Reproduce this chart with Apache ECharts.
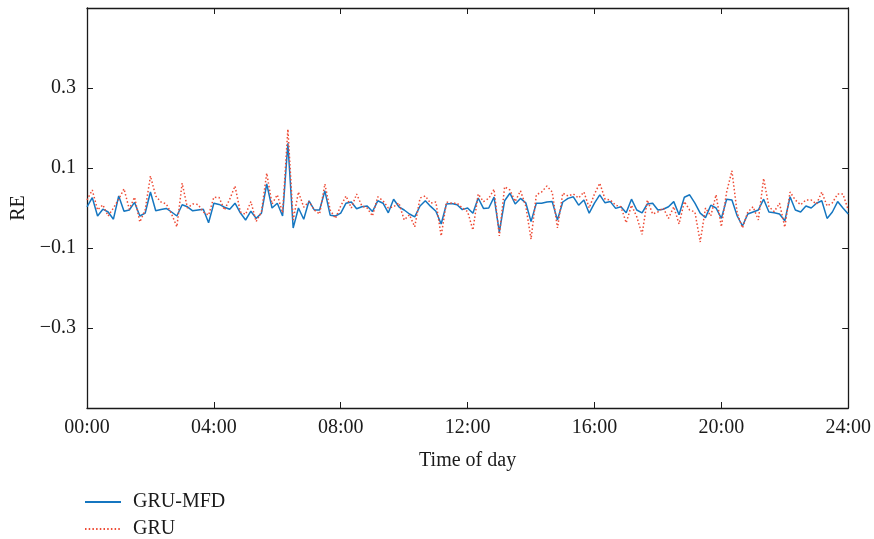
<!DOCTYPE html>
<html>
<head>
<meta charset="utf-8">
<script src="https://cdn.jsdelivr.net/npm/echarts@6/dist/echarts.min.js"></script>
<style>
  html, body { margin: 0; padding: 0; background: #fff; }
  #chart { width: 874px; height: 539px; }
</style>
</head>
<body>
<div id="chart"></div>
<script>
// Relative error over one day, sampled every 10 minutes (00:00 .. 24:00)
const stepMinutes = 10;

const gruMfd = [
  0.003, 0.026, -0.02, -0.003, -0.01, -0.028, 0.03, -0.008, -0.005, 0.014,
  -0.02, -0.013, 0.04, -0.007, -0.004, -0.001, -0.01, -0.02, 0.008, 0.003,
  -0.007, -0.005, -0.003, -0.037, 0.012, 0.009, 0.002, -0.003, 0.012, -0.012,
  -0.03, -0.008, -0.026, -0.013, 0.06, 0.0, 0.012, -0.02, 0.162, -0.05,
  0.0, -0.028, 0.018, -0.005, -0.005, 0.043, -0.018, -0.02, -0.013, 0.012,
  0.015, -0.002, 0.003, 0.005, -0.009, 0.018, 0.012, -0.012, 0.022, 0.003,
  -0.005, -0.015, -0.022, 0.005, 0.018, 0.004, -0.008, -0.04, 0.01, 0.011,
  0.008, -0.004, 0.0, -0.013, 0.025, -0.001, 0.0, 0.027, -0.06, 0.018,
  0.037, 0.01, 0.024, 0.013, -0.034, 0.012, 0.012, 0.015, 0.016, -0.03,
  0.015, 0.024, 0.028, 0.007, 0.02, -0.013, 0.012, 0.033, 0.013, 0.016,
  -0.001, 0.003, -0.012, 0.022, -0.005, -0.012, 0.01, 0.012, -0.005, -0.003,
  0.003, 0.016, -0.017, 0.027, 0.033, 0.012, -0.013, -0.024, 0.007, 0.0,
  -0.026, 0.022, 0.02, -0.02, -0.045, -0.015, -0.01, -0.005, 0.022, -0.01,
  -0.012, -0.015, -0.032, 0.028, -0.005, -0.01, 0.005, 0.0, 0.012, 0.018,
  -0.026, -0.01, 0.016, 0.0, -0.015
];

const gru = [
  0.02, 0.045, -0.005, 0.008, -0.02, 0.0, 0.022, 0.048, -0.003, 0.027,
  -0.035, -0.005, 0.08, 0.03, 0.015, 0.01, -0.015, -0.047, 0.062, 0.0,
  0.01, 0.009, -0.01, -0.018, 0.027, 0.026, -0.005, 0.022, 0.055, -0.01,
  -0.016, 0.016, -0.034, -0.01, 0.087, 0.01, 0.033, -0.012, 0.197, -0.03,
  0.04, 0.002, 0.016, -0.005, -0.015, 0.06, -0.005, -0.026, 0.005, 0.03,
  0.0, 0.035, 0.005, 0.0, -0.02, 0.028, 0.018, 0.0, 0.003, 0.013,
  -0.03, -0.017, -0.047, 0.025, 0.03, 0.012, 0.015, -0.07, 0.015, 0.012,
  0.012, 0.0, -0.009, -0.055, 0.035, 0.016, 0.024, 0.047, -0.07, 0.053,
  0.045, 0.016, 0.043, 0.005, -0.078, 0.033, 0.04, 0.055, 0.04, -0.05,
  0.037, 0.03, 0.035, 0.025, 0.04, 0.0, 0.035, 0.062, 0.022, 0.02,
  0.007, 0.003, -0.037, 0.007, -0.022, -0.066, 0.02, -0.015, -0.01, 0.0,
  -0.026, 0.003, -0.04, 0.016, -0.005, -0.01, -0.085, 0.0, -0.02, 0.033,
  -0.047, 0.04, 0.093, -0.013, -0.05, -0.01, 0.003, -0.03, 0.074, 0.003,
  -0.009, 0.012, -0.048, 0.04, 0.02, 0.008, 0.02, 0.02, 0.01, 0.04,
  0.005, 0.013, 0.035, 0.035, -0.005
];

const hourLabels = ['00:00', '04:00', '08:00', '12:00', '16:00', '20:00', '24:00'];
const yTicks = [-0.3, -0.1, 0.1, 0.3];

const FONT = "'Liberation Serif', 'DejaVu Serif', serif";
const INK = '#1a1a1a';
const BLUE = '#1576C0';
const RED = '#EE4B35';

const toPairs = arr => arr.map((v, i) => [i * stepMinutes / 60, v]);
const fmtY = v => (v < 0 ? '\u2212' : '') + Math.abs(v).toFixed(1);

const chart = echarts.init(document.getElementById('chart'), null, { renderer: 'canvas' });

const baseX = {
  type: 'value', min: 0, max: 24, interval: 4,
  axisLine: { show: true, onZero: false, lineStyle: { color: INK, width: 1.3 } },
  axisTick: { show: true, inside: true, length: 6, lineStyle: { color: INK, width: 1 } },
  splitLine: { show: false }
};
const baseY = {
  type: 'value', min: -0.5, max: 0.5,
  axisLine: { show: true, onZero: false, lineStyle: { color: INK, width: 1.3 } },
  axisTick: { show: true, inside: true, length: 6, customValues: yTicks, lineStyle: { color: INK, width: 1 } },
  splitLine: { show: false }
};

// one legend block per row, stacked under the plot
const legendRow = (name, top) => ({
  data: [name],
  orient: 'vertical',
  left: 79, top: top,
  itemWidth: 36, itemHeight: 14,
  itemStyle: { opacity: 0 },
  textStyle: { fontFamily: FONT, fontSize: 20, color: INK, padding: [0, 0, 0, 7] }
});

chart.setOption({
  animation: false,
  backgroundColor: '#fff',
  grid: { left: 87, right: 23, top: 8, bottom: 131, containLabel: false },
  legend: [legendRow('GRU-MFD', 487), legendRow('GRU', 514)],
  xAxis: [
    Object.assign({}, baseX, {
      position: 'bottom',
      name: 'Time of day', nameLocation: 'middle', nameGap: 43,
      nameTextStyle: { fontFamily: FONT, fontSize: 20, color: INK },
      axisLabel: {
        show: true, margin: 10, fontFamily: FONT, fontSize: 20, color: INK,
        formatter: v => hourLabels[Math.round(v / 4)]
      }
    }),
    Object.assign({}, baseX, { position: 'top', axisLabel: { show: false } })
  ],
  yAxis: [
    Object.assign({}, baseY, {
      position: 'left',
      name: 'RE', nameLocation: 'middle', nameGap: 54, nameRotate: 90,
      nameTextStyle: { fontFamily: FONT, fontSize: 20, color: INK },
      axisLabel: {
        show: true, margin: 11, fontFamily: FONT, fontSize: 20, color: INK,
        customValues: yTicks, formatter: fmtY
      }
    }),
    Object.assign({}, baseY, { position: 'right', axisLabel: { show: false } })
  ],
  series: [
    {
      name: 'GRU-MFD', type: 'line', xAxisIndex: 0, yAxisIndex: 0,
      data: toPairs(gruMfd), symbol: 'none', showSymbol: false, z: 2,
      lineStyle: { color: BLUE, width: 1.5 },
      itemStyle: { color: BLUE }
    },
    {
      name: 'GRU', type: 'line', xAxisIndex: 0, yAxisIndex: 0,
      data: toPairs(gru), symbol: 'none', showSymbol: false, z: 3,
      lineStyle: { color: RED, width: 1.5, type: [1.5, 2.2] },
      itemStyle: { color: RED }
    }
  ]
});
</script>
</body>
</html>
